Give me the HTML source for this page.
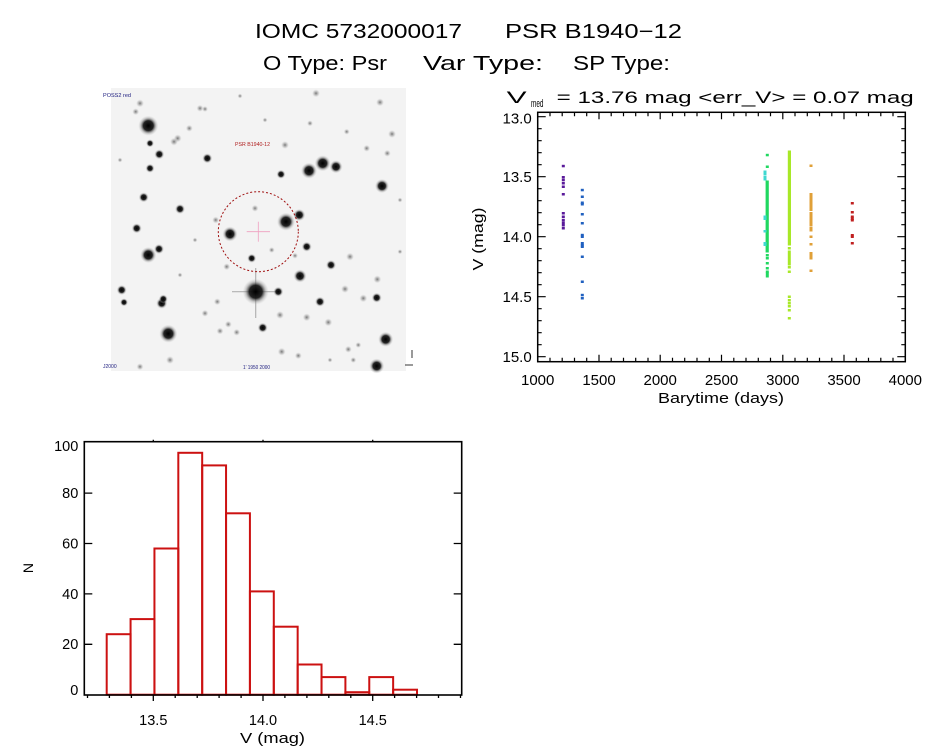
<!DOCTYPE html>
<html><head><meta charset="utf-8"><style>
html,body{margin:0;padding:0;background:#fff;}
svg{display:block;}
text{font-family:"Liberation Sans",sans-serif;fill:#000;}
</style></head><body>
<svg width="944" height="747" viewBox="0 0 944 747" xmlns="http://www.w3.org/2000/svg">
<defs>
<radialGradient id="st">
<stop offset="0" stop-color="#000" stop-opacity="1"/>
<stop offset="0.5" stop-color="#111" stop-opacity="0.92"/>
<stop offset="0.78" stop-color="#777" stop-opacity="0.35"/>
<stop offset="1" stop-color="#aaa" stop-opacity="0"/>
</radialGradient>
<radialGradient id="fs">
<stop offset="0" stop-color="#555" stop-opacity="0.8"/>
<stop offset="0.6" stop-color="#999" stop-opacity="0.4"/>
<stop offset="1" stop-color="#ccc" stop-opacity="0"/>
</radialGradient>
</defs>
<rect width="944" height="747" fill="#fff"/>

<text x="255" y="38" font-size="20" textLength="207" lengthAdjust="spacingAndGlyphs">IOMC 5732000017</text>
<text x="505" y="38" font-size="20" textLength="177" lengthAdjust="spacingAndGlyphs">PSR B1940−12</text>
<text x="263" y="70" font-size="20" textLength="124" lengthAdjust="spacingAndGlyphs">O Type: Psr</text>
<text x="423" y="70" font-size="20" textLength="120" lengthAdjust="spacingAndGlyphs">Var Type:</text>
<text x="573" y="70" font-size="20" textLength="97" lengthAdjust="spacingAndGlyphs">SP Type:</text>

<rect x="111" y="88" width="295" height="283" fill="#f3f3f3"/>
<g>
<circle cx="148.3" cy="125.7" r="10" fill="url(#st)"/>
<circle cx="309" cy="170.7" r="8" fill="url(#st)"/>
<circle cx="322.7" cy="163.3" r="8" fill="url(#st)"/>
<circle cx="336" cy="166.7" r="6.5" fill="url(#st)"/>
<circle cx="382" cy="186" r="7" fill="url(#st)"/>
<circle cx="286" cy="221.7" r="9" fill="url(#st)"/>
<circle cx="299.3" cy="215" r="6" fill="url(#st)"/>
<circle cx="230" cy="234" r="7.5" fill="url(#st)"/>
<circle cx="148.3" cy="255" r="8" fill="url(#st)"/>
<circle cx="159" cy="249" r="5" fill="url(#st)"/>
<line x1="232" y1="291.7" x2="280" y2="291.7" stroke="#888" stroke-width="1.2" opacity="0.6"/>
<line x1="255.7" y1="268" x2="255.7" y2="318" stroke="#888" stroke-width="1.2" opacity="0.6"/>
<circle cx="255.7" cy="291.7" r="13" fill="url(#st)"/>
<circle cx="278.3" cy="291.7" r="5" fill="url(#st)"/>
<circle cx="300" cy="276" r="6.5" fill="url(#st)"/>
<circle cx="168.3" cy="333.7" r="9" fill="url(#st)"/>
<circle cx="385.7" cy="339.3" r="7.5" fill="url(#st)"/>
<circle cx="376.7" cy="366" r="7.5" fill="url(#st)"/>
<circle cx="161.7" cy="303.3" r="5.5" fill="url(#st)"/>
<circle cx="163.3" cy="299" r="4.5" fill="url(#st)"/>
<circle cx="121.7" cy="290" r="5" fill="url(#st)"/>
<circle cx="124" cy="302.3" r="4" fill="url(#st)"/>
<circle cx="143.7" cy="197.3" r="5" fill="url(#st)"/>
<circle cx="150" cy="168.3" r="4.5" fill="url(#st)"/>
<circle cx="159.3" cy="154.3" r="5" fill="url(#st)"/>
<circle cx="150" cy="143.3" r="4" fill="url(#st)"/>
<circle cx="207.3" cy="158.3" r="5" fill="url(#st)"/>
<circle cx="180" cy="209" r="5" fill="url(#st)"/>
<circle cx="136.7" cy="228.3" r="5" fill="url(#st)"/>
<circle cx="281" cy="174.3" r="4.5" fill="url(#st)"/>
<circle cx="285" cy="145" r="4" fill="url(#fs)"/>
<circle cx="306.7" cy="246.7" r="5" fill="url(#st)"/>
<circle cx="251.7" cy="258.3" r="4.5" fill="url(#st)"/>
<circle cx="331" cy="265" r="5" fill="url(#st)"/>
<circle cx="320" cy="301.7" r="5" fill="url(#st)"/>
<circle cx="350" cy="256.7" r="4" fill="url(#fs)"/>
<circle cx="345" cy="289" r="4" fill="url(#fs)"/>
<circle cx="363.3" cy="298.3" r="4" fill="url(#fs)"/>
<circle cx="376.7" cy="297.7" r="5" fill="url(#st)"/>
<circle cx="377.3" cy="279.3" r="4" fill="url(#fs)"/>
<circle cx="262.7" cy="327.7" r="5" fill="url(#st)"/>
<circle cx="306.7" cy="317.3" r="4" fill="url(#fs)"/>
<circle cx="328.3" cy="322.3" r="4" fill="url(#fs)"/>
<circle cx="281.7" cy="351.7" r="4" fill="url(#fs)"/>
<circle cx="298.3" cy="355.7" r="3.5" fill="url(#fs)"/>
<circle cx="280" cy="315" r="4" fill="url(#fs)"/>
<circle cx="217.3" cy="301.7" r="3.5" fill="url(#fs)"/>
<circle cx="205" cy="313.3" r="3.5" fill="url(#fs)"/>
<circle cx="220" cy="331" r="3.5" fill="url(#fs)"/>
<circle cx="236.7" cy="332.3" r="3.5" fill="url(#fs)"/>
<circle cx="228.3" cy="324.3" r="3.5" fill="url(#fs)"/>
<circle cx="170" cy="360" r="4" fill="url(#fs)"/>
<circle cx="140" cy="366.7" r="3.5" fill="url(#fs)"/>
<circle cx="177.7" cy="138.3" r="4" fill="url(#fs)"/>
<circle cx="174" cy="141.7" r="4" fill="url(#fs)"/>
<circle cx="189.3" cy="128.3" r="3.5" fill="url(#fs)"/>
<circle cx="200" cy="108.3" r="3.5" fill="url(#fs)"/>
<circle cx="205" cy="109" r="3" fill="url(#fs)"/>
<circle cx="140" cy="103.3" r="4" fill="url(#fs)"/>
<circle cx="135.7" cy="111.7" r="3.5" fill="url(#fs)"/>
<circle cx="316" cy="93.3" r="4" fill="url(#fs)"/>
<circle cx="380" cy="102.3" r="4" fill="url(#fs)"/>
<circle cx="392" cy="134" r="4" fill="url(#fs)"/>
<circle cx="366.7" cy="148.3" r="3.5" fill="url(#fs)"/>
<circle cx="387.3" cy="153.3" r="3.5" fill="url(#fs)"/>
<circle cx="255" cy="208.3" r="3.5" fill="url(#fs)"/>
<circle cx="215.7" cy="220" r="3.5" fill="url(#fs)"/>
<circle cx="226.7" cy="266.7" r="3.5" fill="url(#fs)"/>
<circle cx="346.7" cy="131.7" r="3" fill="url(#fs)"/>
<circle cx="310" cy="123.3" r="3" fill="url(#fs)"/>
<circle cx="271.7" cy="250" r="3" fill="url(#fs)"/>
<circle cx="295" cy="255.7" r="3" fill="url(#fs)"/>
<circle cx="348.3" cy="349.3" r="3.5" fill="url(#fs)"/>
<circle cx="358.3" cy="345" r="3" fill="url(#fs)"/>
<circle cx="353.3" cy="360" r="3" fill="url(#fs)"/>
<circle cx="400" cy="200" r="2.5" fill="url(#fs)"/>
<circle cx="400" cy="251.7" r="2.5" fill="url(#fs)"/>
<circle cx="120" cy="160" r="2.5" fill="url(#fs)"/>
<circle cx="240" cy="96" r="2.5" fill="url(#fs)"/>
<circle cx="265" cy="120" r="2.5" fill="url(#fs)"/>
<circle cx="330" cy="360" r="2.5" fill="url(#fs)"/>
<circle cx="180" cy="275" r="2.5" fill="url(#fs)"/>
<circle cx="195" cy="240" r="2.5" fill="url(#fs)"/>
</g>
<circle cx="258.3" cy="231.7" r="40" fill="none" stroke="#a01010" stroke-width="1" stroke-dasharray="2,2"/>
<line x1="246.7" y1="231.7" x2="270" y2="231.7" stroke="#f0a0c0" stroke-width="0.8"/>
<line x1="258.3" y1="221.7" x2="258.3" y2="241.7" stroke="#f0a0c0" stroke-width="0.8"/>
<text x="235" y="146" font-size="5" style="fill:#b02020" textLength="35" lengthAdjust="spacingAndGlyphs">PSR B1940-12</text>
<text x="103" y="97" font-size="5" style="fill:#202080" textLength="28" lengthAdjust="spacingAndGlyphs">POSS2 red</text>
<text x="103" y="368" font-size="5" style="fill:#202080">J2000</text>
<text x="243" y="369" font-size="5" style="fill:#202080" textLength="27" lengthAdjust="spacingAndGlyphs">1' 1950 2000</text>
<line x1="412" y1="350" x2="412" y2="358" stroke="#000" stroke-width="0.8"/>
<line x1="405" y1="365" x2="413" y2="365" stroke="#000" stroke-width="0.8"/>

<text x="506.7" y="103" font-size="17" textLength="20" lengthAdjust="spacingAndGlyphs">V</text>
<text x="531" y="107" font-size="11" textLength="12.5" lengthAdjust="spacingAndGlyphs">med</text>
<text x="556.7" y="103" font-size="17" textLength="357" lengthAdjust="spacingAndGlyphs">= 13.76 mag &lt;err_V&gt; = 0.07 mag</text>

<rect x="537.7" y="112.3" width="367.6" height="249.4" fill="none" stroke="#000" stroke-width="1.5"/>
<path stroke="#000" stroke-width="1.2" fill="none" d="M537.7 361.7v-7 M550 361.7v-4 M562.2 361.7v-4 M574.5 361.7v-4 M586.7 361.7v-4 M599 361.7v-7 M611.2 361.7v-4 M623.5 361.7v-4 M635.7 361.7v-4 M648 361.7v-4 M660.2 361.7v-7 M672.5 361.7v-4 M684.7 361.7v-4 M697 361.7v-4 M709.3 361.7v-4 M721.5 361.7v-7 M733.8 361.7v-4 M746 361.7v-4 M758.3 361.7v-4 M770.5 361.7v-4 M782.8 361.7v-7 M795 361.7v-4 M807.3 361.7v-4 M819.5 361.7v-4 M831.8 361.7v-4 M844 361.7v-7 M856.3 361.7v-4 M868.5 361.7v-4 M880.8 361.7v-4 M893 361.7v-4 M550 112.3v4 M562.2 112.3v4 M574.5 112.3v4 M586.7 112.3v4 M599 112.3v7 M611.2 112.3v4 M623.5 112.3v4 M635.7 112.3v4 M648 112.3v4 M660.2 112.3v7 M672.5 112.3v4 M684.7 112.3v4 M697 112.3v4 M709.3 112.3v4 M721.5 112.3v7 M733.8 112.3v4 M746 112.3v4 M758.3 112.3v4 M770.5 112.3v4 M782.8 112.3v7 M795 112.3v4 M807.3 112.3v4 M819.5 112.3v4 M831.8 112.3v4 M844 112.3v7 M856.3 112.3v4 M868.5 112.3v4 M880.8 112.3v4 M893 112.3v4 M537.7 116.7h8 M537.7 128.7h4 M537.7 140.7h4 M537.7 152.7h4 M537.7 164.7h4 M537.7 176.7h8 M537.7 188.7h4 M537.7 200.7h4 M537.7 212.7h4 M537.7 224.7h4 M537.7 236.7h8 M537.7 248.7h4 M537.7 260.7h4 M537.7 272.7h4 M537.7 284.7h4 M537.7 296.7h8 M537.7 308.7h4 M537.7 320.7h4 M537.7 332.7h4 M537.7 344.7h4 M537.7 356.7h8 M905.3 116.7h-8 M905.3 128.7h-4 M905.3 140.7h-4 M905.3 152.7h-4 M905.3 164.7h-4 M905.3 176.7h-8 M905.3 188.7h-4 M905.3 200.7h-4 M905.3 212.7h-4 M905.3 224.7h-4 M905.3 236.7h-8 M905.3 248.7h-4 M905.3 260.7h-4 M905.3 272.7h-4 M905.3 284.7h-4 M905.3 296.7h-8 M905.3 308.7h-4 M905.3 320.7h-4 M905.3 332.7h-4 M905.3 344.7h-4 M905.3 356.7h-8"/>
<g font-size="15" text-anchor="end">
<text x="531.7" y="123.5">13.0</text>
<text x="531.7" y="182">13.5</text>
<text x="531.7" y="242">14.0</text>
<text x="531.7" y="302">14.5</text>
<text x="531.7" y="362">15.0</text>
</g>
<g font-size="15" text-anchor="middle">
<text x="537.7" y="385">1000</text>
<text x="599" y="385">1500</text>
<text x="660.2" y="385">2000</text>
<text x="721.5" y="385">2500</text>
<text x="782.8" y="385">3000</text>
<text x="844" y="385">3500</text>
<text x="905.3" y="385">4000</text>
</g>
<text x="658" y="403" font-size="15" textLength="126" lengthAdjust="spacingAndGlyphs">Barytime (days)</text>
<text transform="translate(483,239) rotate(-90)" font-size="15" text-anchor="middle" textLength="63" lengthAdjust="spacingAndGlyphs">V (mag)</text>

<g fill="#5a1a9a">
<rect x="561.8" y="164.8" width="3" height="2.5"/><rect x="561.8" y="176" width="3" height="2.5"/><rect x="561.8" y="178.8" width="3" height="2.5"/><rect x="561.8" y="182" width="3" height="2.5"/><rect x="561.8" y="185.5" width="3" height="2.5"/><rect x="561.8" y="193" width="3" height="2.5"/><rect x="561.8" y="212" width="3" height="2.5"/><rect x="561.8" y="215.5" width="3" height="2.5"/><rect x="561.8" y="218.8" width="3" height="2.5"/><rect x="561.8" y="221.5" width="3" height="2.5"/><rect x="561.8" y="224" width="3" height="2.5"/><rect x="561.8" y="227" width="3" height="2.5"/>
</g>
<g fill="#2060c0">
<rect x="580.8" y="188.8" width="3" height="2.5"/><rect x="580.8" y="195.5" width="3" height="2.5"/><rect x="580.8" y="201.5" width="3" height="2.5"/><rect x="580.8" y="203" width="3" height="2.5"/><rect x="580.8" y="213" width="3" height="2.5"/><rect x="580.8" y="222" width="3" height="2.5"/><rect x="580.8" y="233.8" width="3" height="2.5"/><rect x="580.8" y="235.5" width="3" height="2.5"/><rect x="580.8" y="242" width="3" height="2.5"/><rect x="580.8" y="244" width="3" height="2.5"/><rect x="580.8" y="245.5" width="3" height="2.5"/><rect x="580.8" y="255.5" width="3" height="2.5"/><rect x="580.8" y="280.5" width="3" height="2.5"/><rect x="580.8" y="293.8" width="3" height="2.5"/><rect x="580.8" y="297" width="3" height="2.5"/>
</g>
<g fill="#20d860">
<rect x="765.8" y="153.8" width="3" height="2.5"/><rect x="765.8" y="165.5" width="3" height="2.5"/>
<rect x="765.6" y="180.5" width="3.2" height="72"/>
<rect x="765.8" y="254" width="3" height="2.5"/><rect x="765.8" y="257" width="3" height="2.5"/><rect x="765.8" y="262" width="3" height="2.5"/><rect x="765.8" y="267" width="3" height="2.5"/><rect x="765.8" y="270.5" width="3" height="2.5"/><rect x="765.8" y="272.5" width="3" height="2.5"/><rect x="765.8" y="275" width="3" height="2.5"/>
</g>
<g fill="#40d8d0">
<rect x="763.5" y="170.5" width="3" height="2.5"/><rect x="763.5" y="173" width="3" height="2.5"/><rect x="763.5" y="176" width="3" height="2.5"/><rect x="763.5" y="178" width="3" height="2.5"/><rect x="763.5" y="215.5" width="3" height="2.5"/><rect x="763.5" y="217.5" width="3" height="2.5"/><rect x="763.5" y="230" width="3" height="2.5"/><rect x="763.5" y="242" width="3" height="2.5"/><rect x="763.5" y="243.5" width="3" height="2.5"/>
</g>
<g fill="#a8e828">
<rect x="787.8" y="150.5" width="3.2" height="95"/>
<rect x="787.8" y="247" width="3" height="2.5"/><rect x="787.8" y="250.5" width="3" height="2.5"/><rect x="787.8" y="253" width="3" height="2.5"/><rect x="787.8" y="255.5" width="3" height="2.5"/><rect x="787.8" y="258" width="3" height="2.5"/><rect x="787.8" y="260.5" width="3" height="2.5"/><rect x="787.8" y="263" width="3" height="2.5"/><rect x="787.8" y="266" width="3" height="2.5"/><rect x="787.8" y="270.5" width="3" height="2.5"/>
<rect x="787.8" y="295.5" width="3" height="2.5"/><rect x="787.8" y="299" width="3" height="2.5"/><rect x="787.8" y="302" width="3" height="2.5"/><rect x="787.8" y="305" width="3" height="2.5"/><rect x="787.8" y="309" width="3" height="2.5"/><rect x="787.8" y="317" width="3" height="2.5"/>
</g>
<g fill="#e0a038">
<rect x="809.5" y="164.5" width="3" height="2.5"/>
<rect x="809.5" y="193" width="3" height="18"/>
<rect x="809.5" y="212" width="3" height="2.5"/><rect x="809.5" y="214.5" width="3" height="2.5"/><rect x="809.5" y="216.5" width="3" height="2.5"/><rect x="809.5" y="219" width="3" height="2.5"/><rect x="809.5" y="221.5" width="3" height="2.5"/><rect x="809.5" y="224" width="3" height="2.5"/><rect x="809.5" y="227" width="3" height="2.5"/><rect x="809.5" y="229" width="3" height="2.5"/><rect x="809.5" y="235.5" width="3" height="2.5"/><rect x="809.5" y="243" width="3" height="2.5"/><rect x="809.5" y="252" width="3" height="2.5"/><rect x="809.5" y="254.5" width="3" height="2.5"/><rect x="809.5" y="257" width="3" height="2.5"/><rect x="809.5" y="269.5" width="3" height="2.5"/>
</g>
<g fill="#c02020">
<rect x="850.8" y="202" width="3" height="2.5"/><rect x="850.8" y="211" width="3" height="2.5"/><rect x="850.8" y="215.5" width="3" height="2.5"/><rect x="850.8" y="217.5" width="3" height="2.5"/><rect x="850.8" y="219" width="3" height="2.5"/><rect x="850.8" y="234" width="3" height="2.5"/><rect x="850.8" y="235.5" width="3" height="2.5"/><rect x="850.8" y="242" width="3" height="2.5"/>
</g>

<g fill="none" stroke="#cc1111" stroke-width="2">
<rect x="106.7" y="634.2" width="23.87" height="60.5"/>
<rect x="130.57" y="619.1" width="23.87" height="75.6"/>
<rect x="154.44" y="548.5" width="23.87" height="146.2"/>
<rect x="178.31" y="452.8" width="23.87" height="241.9"/>
<rect x="202.18" y="465.4" width="23.87" height="229.3"/>
<rect x="226.05" y="513.3" width="23.87" height="181.4"/>
<rect x="249.92" y="591.4" width="23.87" height="103.3"/>
<rect x="273.79" y="626.7" width="23.87" height="68"/>
<rect x="297.66" y="664.5" width="23.87" height="30.2"/>
<rect x="321.53" y="677.1" width="23.87" height="17.6"/>
<rect x="345.4" y="692.2" width="23.87" height="2.5"/>
<rect x="369.27" y="677.1" width="23.87" height="17.6"/>
<rect x="393.14" y="689.7" width="23.87" height="5"/>
</g>
<rect x="84.3" y="441.7" width="377.4" height="253.3" fill="none" stroke="#000" stroke-width="1.6"/>
<path stroke="#000" stroke-width="1.3" fill="none" d="M87.5 695v3 M109.4 695v3 M131.4 695v3 M153.3 695v6 M175.2 695v3 M197.2 695v3 M219.1 695v3 M241.1 695v3 M263 695v6 M284.9 695v3 M306.9 695v3 M328.8 695v3 M350.8 695v3 M372.7 695v6 M394.6 695v3 M416.6 695v3 M438.5 695v3 M460.5 695v3 M153.3 441.7v-2 M263 441.7v-2 M372.7 441.7v-2 M84.3 644.3h8 M84.3 593.9h8 M84.3 543.5h8 M84.3 493.1h8 M461.7 644.3h-8 M461.7 593.9h-8 M461.7 543.5h-8 M461.7 493.1h-8"/>
<g font-size="14.5" text-anchor="end">
<text x="78.3" y="451">100</text>
<text x="78.3" y="498">80</text>
<text x="78.3" y="548.5">60</text>
<text x="78.3" y="599.2">40</text>
<text x="78.3" y="649.2">20</text>
<text x="78.3" y="695.2">0</text>
</g>
<g font-size="14.5" text-anchor="middle">
<text x="153.3" y="725">13.5</text>
<text x="263" y="725">14.0</text>
<text x="372.7" y="725">14.5</text>
</g>
<text x="240" y="743" font-size="15" textLength="65" lengthAdjust="spacingAndGlyphs">V (mag)</text>
<text transform="translate(33,568) rotate(-90)" font-size="14" text-anchor="middle">N</text>
</svg>
</body></html>
